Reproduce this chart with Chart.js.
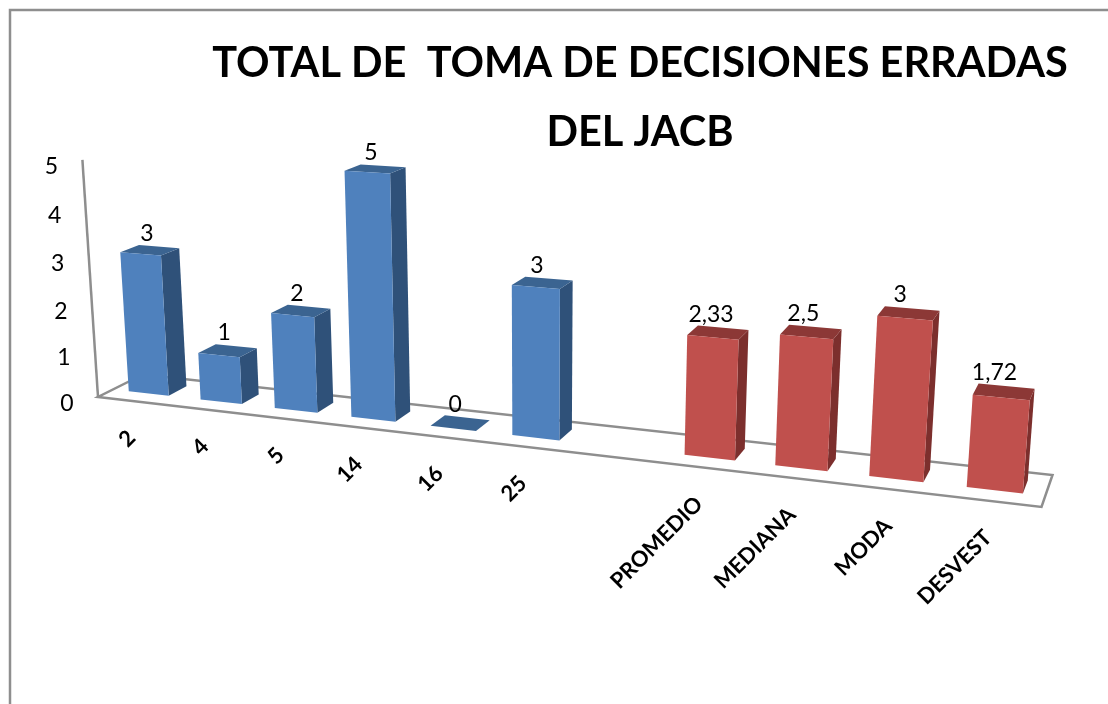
<!DOCTYPE html>
<html>
<head>
<meta charset="utf-8">
<title>Toma de decisiones erradas</title>
<script src="https://cdn.jsdelivr.net/npm/chart.js@4"></script>
<style>
  body { margin: 0; background: #fff; }
  canvas { display: block; }
</style>
</head>
<body>
<canvas id="grafico" width="1108" height="704"></canvas>
<script>
const categorias = ['2', '4', '5', '14', '16', '25', '', 'PROMEDIO', 'MEDIANA', 'MODA', 'DESVEST'];
const valoresAzul = [3, 1, 2, 5, 0, 3, null, null, null, null, null];
const valoresRojo = [null, null, null, null, null, null, null, 2.33, 2.5, 3, 1.72];
const titulo = ['TOTAL DE  TOMA DE DECISIONES ERRADAS', 'DEL JACB'];

// floor corners of the 3D box on screen, and where the vertical edges converge
const piso = [[98, 397], [1041.5, 507], [1052.5, 475], [143, 374.5]];
const fuga = [537, 7071];
const escalaV = -0.00686;
const fondoFrente = 0.33, fondoAtras = 0.74;

const GRIS = '#8e8e8e';
const fuente = 'Lato, sans-serif';

function crearProyeccion(q) {
    const [x0, y0] = q[0], [x1, y1] = q[1], [x2, y2] = q[2], [x3, y3] = q[3];
    const dx1 = x1 - x2, dx2 = x3 - x2, sx = x0 - x1 + x2 - x3;
    const dy1 = y1 - y2, dy2 = y3 - y2, sy = y0 - y1 + y2 - y3;
    const den = dx1 * dy2 - dx2 * dy1;
    const g = (sx * dy2 - dx2 * sy) / den;
    const h = (dx1 * sy - sx * dy1) / den;
    const a = x1 - x0 + g * x1, b = x3 - x0 + h * x3;
    const d = y1 - y0 + g * y1, e = y3 - y0 + h * y3;
    return function (s, w, v) {
        const k = v * escalaV;
        const W = g * s + h * w + 1 + k;
        return [(a * s + b * w + x0 + k * fuga[0]) / W, (d * s + e * w + y0 + k * fuga[1]) / W];
    };
}
const proyectar = crearProyeccion(piso);

function poligono(ctx, puntos, color) {
    ctx.beginPath();
    puntos.forEach((p, i) => i ? ctx.lineTo(p[0], p[1]) : ctx.moveTo(p[0], p[1]));
    ctx.closePath();
    ctx.fillStyle = color;
    ctx.fill();
}

function linea(ctx, puntos, cerrar) {
    ctx.beginPath();
    puntos.forEach((p, i) => i ? ctx.lineTo(p[0], p[1]) : ctx.moveTo(p[0], p[1]));
    if (cerrar) ctx.closePath();
    ctx.strokeStyle = GRIS;
    ctx.lineWidth = 2.5;
    ctx.stroke();
}

const dibujo3d = {
    id: 'dibujo3d',
    beforeDraw(chart) {
        const ctx = chart.ctx;
        ctx.save();
        ctx.fillStyle = '#fff';
        ctx.fillRect(0, 0, chart.width, chart.height);
        linea(ctx, [[10, chart.height], [10, 10], [chart.width, 10]]);
        ctx.restore();
    },
    beforeDatasetsDraw(chart) {
        const ctx = chart.ctx, area = chart.chartArea;
        const ejeY = chart.scales.y, ejeX = chart.scales.x;
        ctx.save();

        // floor and vertical axis
        linea(ctx, [proyectar(0, 0, 0), proyectar(1, 0, 0), proyectar(1, 1, 0), proyectar(0, 1, 0)], true);
        linea(ctx, [proyectar(0, 0, ejeY.max), proyectar(0, 0, 0)]);

        // y tick labels
        ctx.fillStyle = '#000';
        ctx.font = '23px ' + fuente;
        ctx.textAlign = 'center';
        ctx.textBaseline = 'middle';
        ejeY.ticks.forEach(t => {
            const p = proyectar(0, 0, t.value);
            ctx.fillText(String(t.value), p[0] - 31, p[1] + 7);
        });

        // bars
        chart.data.datasets.forEach((ds, n) => {
            chart.getDatasetMeta(n).data.forEach((bar, i) => {
                if (ds.data[i] === null) return;
                const v = ejeY.getValueForPixel(bar.y);
                const s0 = (bar.x - bar.width / 2 - area.left) / area.width;
                const s1 = (bar.x + bar.width / 2 - area.left) / area.width;
                const a = fondoFrente, b = fondoAtras;
                if (v > 0) {
                    poligono(ctx, [proyectar(s1, a, 0), proyectar(s1, b, 0), proyectar(s1, b, v), proyectar(s1, a, v)], ds.colorLado);
                }
                poligono(ctx, [proyectar(s0, a, v), proyectar(s1, a, v), proyectar(s1, b, v), proyectar(s0, b, v)], ds.colorTapa);
                if (v > 0) {
                    poligono(ctx, [proyectar(s0, a, 0), proyectar(s1, a, 0), proyectar(s1, a, v), proyectar(s0, a, v)], ds.backgroundColor);
                }
                // value label
                const c = proyectar((s0 + s1) / 2, b, v);
                ctx.fillStyle = '#000';
                ctx.font = '23px ' + fuente;
                ctx.textAlign = 'center';
                ctx.textBaseline = 'alphabetic';
                ctx.fillText(String(ds.data[i]).replace('.', ','), c[0] - 12, c[1] - 6);
            });
        });

        // category labels
        ctx.fillStyle = '#000';
        ctx.font = 'bold 22px ' + fuente;
        ctx.textAlign = 'right';
        ctx.textBaseline = 'middle';
        categorias.forEach((nombre, i) => {
            const s = (ejeX.getPixelForValue(i) - area.left) / area.width;
            const p = proyectar(s, 0, 0);
            ctx.save();
            ctx.translate(p[0] - 2, p[1] + 33);
            ctx.rotate(-Math.PI / 4);
            ctx.fillText(nombre, 0, 0);
            ctx.restore();
        });

        ctx.restore();
        return false;
    }
};

new Chart(document.getElementById('grafico'), {
    type: 'bar',
    data: {
        labels: categorias,
        datasets: [
            { data: valoresAzul, backgroundColor: '#4f81bd', colorLado: '#2f5179', colorTapa: '#3b6491' },
            { data: valoresRojo, backgroundColor: '#c0504d', colorLado: '#7c2f2d', colorTapa: '#8c3836' }
        ]
    },
    options: {
        responsive: false,
        animation: false,
        layout: { padding: { left: 172, top: 29 } },
        datasets: { bar: { categoryPercentage: 1, barPercentage: 0.56 } },
        plugins: {
            legend: { display: false },
            tooltip: { enabled: false },
            title: {
                display: true,
                text: titulo,
                color: '#000',
                font: { family: fuente, size: 41.5, weight: 'bold', lineHeight: 1.66 },
                padding: 0
            }
        },
        scales: {
            x: { display: false, stacked: true },
            y: { display: false, stacked: true, min: 0, max: 5, ticks: { stepSize: 1 } }
        }
    },
    plugins: [dibujo3d]
});
</script>
</body>
</html>
